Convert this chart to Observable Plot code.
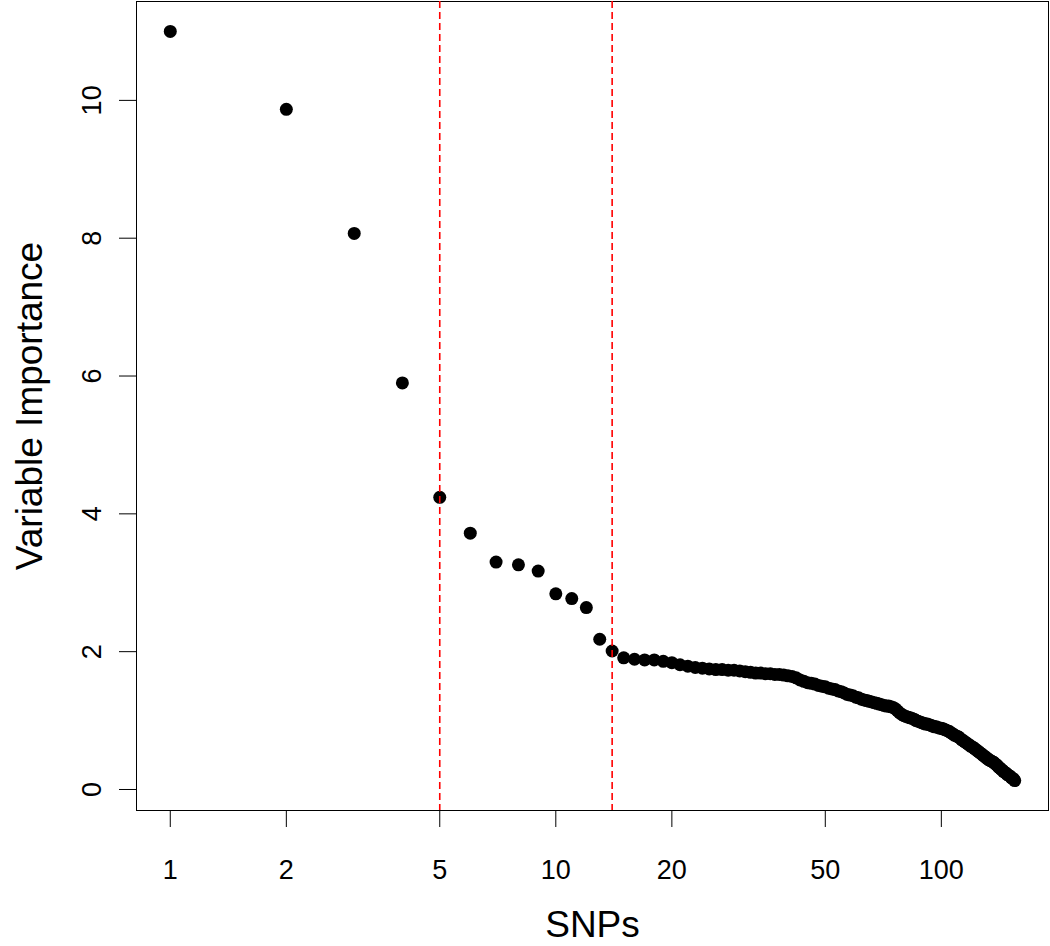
<!DOCTYPE html>
<html><head><meta charset="utf-8">
<script src="https://cdn.jsdelivr.net/npm/d3@7"></script>
<script src="https://cdn.jsdelivr.net/npm/@observablehq/plot@0.6"></script>
<style>html,body{margin:0;padding:0;background:#fff;} svg{display:block;}</style>
</head><body><div id="chart"></div>
<script>
// Variable importance of SNPs, sorted (rank 1..155)
const importance = [
  11.00, 9.87, 8.07, 5.90, 4.24, 3.72, 3.30, 3.26, 3.17, 2.84,
  2.77, 2.64, 2.18, 2.01, 1.91, 1.89, 1.88, 1.88, 1.86, 1.84,
  1.81, 1.79, 1.77, 1.76, 1.75, 1.74, 1.74, 1.73, 1.73, 1.72,
  1.71, 1.70, 1.69, 1.69, 1.68, 1.68, 1.67, 1.67, 1.66, 1.65,
  1.64, 1.62, 1.59, 1.57, 1.55, 1.54, 1.53, 1.51, 1.50, 1.49,
  1.47, 1.46, 1.45, 1.43, 1.42, 1.40, 1.38, 1.37, 1.36, 1.34,
  1.33, 1.31, 1.30, 1.29, 1.28, 1.27, 1.26, 1.25, 1.24, 1.23,
  1.22, 1.21, 1.21, 1.20, 1.19, 1.17, 1.14, 1.11, 1.09, 1.07,
  1.06, 1.05, 1.04, 1.03, 1.02, 1.00, 0.99, 0.98, 0.97, 0.96,
  0.95, 0.95, 0.94, 0.93, 0.92, 0.91, 0.91, 0.90, 0.89, 0.89,
  0.88, 0.87, 0.86, 0.85, 0.84, 0.82, 0.81, 0.79, 0.78, 0.77,
  0.76, 0.74, 0.72, 0.71, 0.69, 0.68, 0.66, 0.65, 0.63, 0.62,
  0.61, 0.59, 0.58, 0.56, 0.55, 0.53, 0.52, 0.50, 0.49, 0.47,
  0.46, 0.44, 0.43, 0.42, 0.41, 0.40, 0.39, 0.37, 0.36, 0.34,
  0.32, 0.31, 0.29, 0.28, 0.26, 0.25, 0.24, 0.22, 0.21, 0.20,
  0.19, 0.17, 0.16, 0.15, 0.13
];
const xTicks = [1, 2, 5, 10, 20, 50, 100];
const yTicks = [0, 2, 4, 6, 8, 10];
const cutoffs = [5, 14];
const xLabel = "SNPs";
const yLabel = "Variable Importance";

const data = importance.map((v, i) => ({rank: i + 1, value: v}));
const n = importance.length;
const lx0 = 0, lx1 = Math.log10(n), pad = 0.04 * (lx1 - lx0);
const ymin = d3.min(importance), ymax = d3.max(importance), ypad = 0.04 * (ymax - ymin);

const chart = Plot.plot({
  width: 1050, height: 946,
  marginLeft: 136, marginRight: 2, marginTop: 1, marginBottom: 136,
  style: {fontFamily: "'Liberation Sans', Arial, sans-serif", background: "#fff", color: "#000"},
  x: {type: "log", domain: [10 ** (lx0 - pad), 10 ** (lx1 + pad)]},
  y: {domain: [ymin - ypad, ymax + ypad]},
  marks: [
    Plot.frame({stroke: "#000", strokeWidth: 1}),
    Plot.dot(data, {x: "rank", y: "value", r: 6.5, fill: "#000", stroke: "none"}),
    Plot.ruleX(cutoffs, {stroke: "#ff0000", strokeDasharray: "7,4", strokeWidth: 1.6}),
    Plot.axisX({ticks: xTicks, tickFormat: d => String(d), tickSize: 17, tickPadding: 32, fontSize: 27, label: null}),
    Plot.axisY({ticks: yTicks, tickFormat: d => String(d), tickSize: 17, tickPadding: 19, tickRotate: -90, fontSize: 27, label: null}),
    Plot.text([xLabel], {frameAnchor: "bottom", dy: 115, fontSize: 37, textAnchor: "middle", lineAnchor: "middle"}),
    Plot.text([yLabel], {frameAnchor: "left", dx: -106, rotate: -90, fontSize: 37, textAnchor: "middle", lineAnchor: "middle"})
  ]
});
document.getElementById("chart").appendChild(chart);
</script>
</body></html>
